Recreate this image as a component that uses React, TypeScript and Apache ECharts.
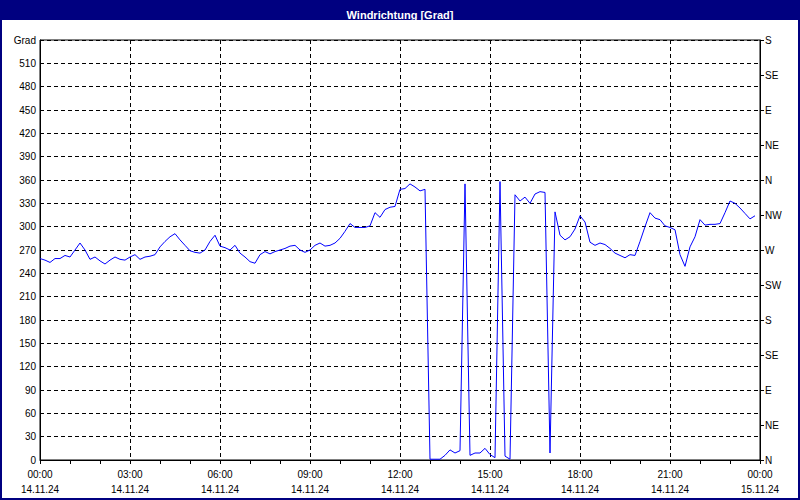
import React, { useEffect, useRef } from "react";
import * as echarts from "echarts";

// ---- data ----
const TITLE = "Windrichtung [Grad]";
const START_MIN = 0; // 14.11.24 00:00
const STEP_MIN = 10; // one reading every 10 minutes
// wind direction in degrees, 00:00 .. 23:50
const DIRECTION: number[] = [
  259, 257, 254, 259, 259, 263, 261, 270, 279, 270,
  258, 261, 256, 252, 257, 261, 258, 257, 261, 264,
  258, 261, 262, 264, 274, 281, 287, 291, 283, 276,
  269, 267, 266, 270, 281, 289, 275, 273, 270, 276,
  266, 261, 255, 253, 264, 268, 265, 268, 270, 272,
  275, 276, 270, 267, 270, 276, 279, 275, 276, 279,
  285, 294, 304, 299, 299, 299, 301, 318, 312, 322,
  325, 326, 348, 349, 355, 351, 346, 348, 1, 1,
  1, 6, 13, 9, 12, 355, 6, 9, 9, 15,
  7, 3, 358, 5, 1, 341, 333, 338, 330, 342,
  345, 344, 9, 319, 289, 283, 287, 297, 314, 306,
  280, 276, 279, 277, 272, 266, 263, 260, 264, 263,
  281, 300, 318, 311, 309, 301, 299, 296, 264, 249,
  274, 287, 309, 302, 303, 303, 304, 318, 333, 330,
  324, 317, 310, 314,
];
const TIME_LABELS = ["00:00", "03:00", "06:00", "09:00", "12:00", "15:00", "18:00", "21:00", "00:00"];
const DATE_LABELS = ["14.11.24", "14.11.24", "14.11.24", "14.11.24", "14.11.24", "14.11.24", "14.11.24", "14.11.24", "15.11.24"];
const COMPASS = ["N", "NE", "E", "SE", "S", "SW", "W", "NW", "N", "NE", "E", "SE", "S"];
const Y_UNIT = "Grad";

const FONT = "Liberation Sans";

export default function App() {
  const ref = useRef<HTMLDivElement>(null);
  useEffect(() => {
    document.body.style.margin = "0";
    const chart = echarts.init(ref.current!, null, { renderer: "svg" });
    const data = DIRECTION.map((v, i) => [START_MIN + i * STEP_MIN, v]);
    chart.setOption({
      animation: false,
      backgroundColor: "#ffffff",
      title: {
        text: TITLE,
        left: "center",
        top: 4,
        z: 10,
        textStyle: { color: "#ffffff", fontSize: 11, fontWeight: "bold", fontFamily: FONT },
      },
      graphic: [
        { type: "rect", z: 1, shape: { x: 0, y: 0, width: 800, height: 20 }, style: { fill: "#000080" } },
        {
          type: "rect",
          z: 100,
          shape: { x: 1, y: 1, width: 798, height: 498 },
          style: { fill: "transparent", stroke: "#000080", lineWidth: 2 },
        },
      ],
      grid: {
        left: 40,
        right: 40,
        top: 40,
        bottom: 40,
        show: true,
        backgroundColor: "#ffffff",
        borderColor: "#000000",
        borderWidth: 1,
      },
      xAxis: {
        type: "value",
        min: 0,
        max: 1440,
        interval: 180,
        axisLine: { show: true, lineStyle: { color: "#000", width: 1 } },
        axisTick: { show: true, length: 4, lineStyle: { color: "#000" } },
        minorTick: { show: true, splitNumber: 3, length: 4, lineStyle: { color: "#000" } },
        splitLine: { show: true, lineStyle: { color: "#000", type: [4, 3], width: 1 } },
        axisLabel: {
          margin: 7,
          color: "#000",
          fontSize: 10,
          fontFamily: FONT,
          lineHeight: 15,
          formatter: (v: number) => {
            const i = Math.round(v / 180);
            return `${TIME_LABELS[i]}\n${DATE_LABELS[i]}`;
          },
        },
      },
      yAxis: [
        {
          type: "value",
          min: 0,
          max: 540,
          interval: 30,
          position: "left",
          axisLine: { show: true, lineStyle: { color: "#000" } },
          axisTick: { show: false },
          splitLine: { show: true, lineStyle: { color: "#000", type: [4, 3], width: 1 } },
          axisLabel: {
            margin: 4,
            color: "#000",
            fontSize: 10,
            fontFamily: FONT,
            formatter: (v: number) => (v === 540 ? Y_UNIT : String(v)),
          },
        },
        {
          type: "value",
          min: 0,
          max: 540,
          interval: 45,
          position: "right",
          axisLine: { show: true, lineStyle: { color: "#000" } },
          axisTick: { show: true, length: 4, lineStyle: { color: "#000" } },
          splitLine: { show: false },
          axisLabel: {
            margin: 5,
            color: "#000",
            fontSize: 10,
            fontFamily: FONT,
            formatter: (v: number) => COMPASS[Math.round(v / 45)],
          },
        },
      ],
      series: [
        {
          type: "line",
          yAxisIndex: 0,
          data,
          showSymbol: false,
          symbol: "none",
          lineStyle: { color: "#0000ff", width: 1 },
          itemStyle: { color: "#0000ff" },
        },
      ],
    });
    return () => chart.dispose();
  }, []);
  return <div ref={ref} style={{ width: 800, height: 500 }} />;
}
